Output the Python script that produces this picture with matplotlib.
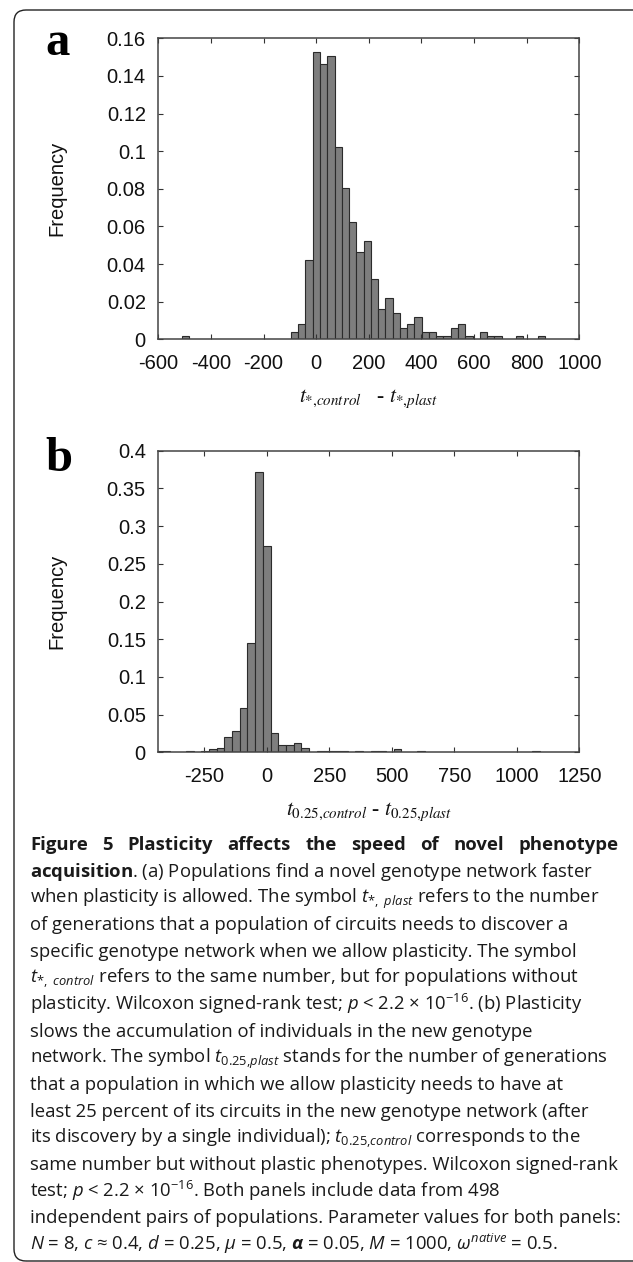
import numpy as np
import matplotlib
matplotlib.use('Agg')
import matplotlib.pyplot as plt
from matplotlib.patches import FancyBboxPatch
from matplotlib.transforms import IdentityTransform
from matplotlib.ticker import FuncFormatter

# panel a : t*,control - t*,plast  (50 bins, counts out of 498 pairs)
a_range = (-510, 870)
a_counts = [1, 0, 0, 0, 0, 0, 0, 0, 0, 0, 0, 0, 0, 0, 0,
            2, 4, 21, 76, 73, 75, 51, 40, 31, 23, 26, 16, 8, 11, 7, 3, 4, 6,
            2, 2, 1, 1, 3, 4, 1, 0, 2, 1, 1, 0, 0, 1, 0, 0, 1]
a_xticks = [-600, -400, -200, 0, 200, 400, 600, 800, 1000]
a_yticks = [0, 0.02, 0.04, 0.06, 0.08, 0.1, 0.12, 0.14, 0.16]

# panel b : t0.25,control - t0.25,plast
b_range = (-447, 1093)
b_counts = [1, 1, 0, 0, 1, 0, 1, 2, 3, 10, 14, 29, 72, 185, 136, 13, 5, 5, 6, 3,
            0, 1, 1, 1, 1, 0, 1, 0, 1, 1, 0, 2, 0, 0, 1,
            0, 0, 0, 0, 0, 0, 0, 0, 0, 0, 0, 0, 0, 0, 1]
b_xticks = [-250, 0, 250, 500, 750, 1000, 1250]
b_yticks = [0, 0.05, 0.1, 0.15, 0.2, 0.25, 0.3, 0.35, 0.4]

n_pairs = 498

caption_title = 'Figure 5 Plasticity affects the speed of novel phenotype'
caption_lines = [
    r'$\mathbf{acquisition}$. (a) Populations find a novel genotype network faster',
    r'when plasticity is allowed. The symbol $t_{*,\ plast}$ refers to the number',
    r'of generations that a population of circuits needs to discover a',
    r'specific genotype network when we allow plasticity. The symbol',
    r'$t_{*,\ control}$ refers to the same number, but for populations without',
    r'plasticity. Wilcoxon signed-rank test; $p$ < 2.2 × $10^{-16}$. (b) Plasticity',
    r'slows the accumulation of individuals in the new genotype',
    r'network. The symbol $t_{0.25{,}plast}$ stands for the number of generations',
    r'that a population in which we allow plasticity needs to have at',
    r'least 25 percent of its circuits in the new genotype network (after',
    r'its discovery by a single individual); $t_{0.25{,}control}$ corresponds to the',
    r'same number but without plastic phenotypes. Wilcoxon signed-rank',
    r'test; $p$ < 2.2 × $10^{-16}$. Both panels include data from 498',
    r'independent pairs of populations. Parameter values for both panels:',
    r'$N$ = 8, $c$ ≈ 0.4, $d$ = 0.25, $\mu$ = 0.5, $\boldsymbol{\alpha}$ = 0.05, $M$ = 1000, $\omega^{native}$ = 0.5.',
]

plt.rcParams['axes.unicode_minus'] = False
plt.rcParams['mathtext.fontset'] = 'custom'
plt.rcParams['mathtext.rm'] = 'Open Sans'
plt.rcParams['mathtext.it'] = 'Open Sans:italic'
plt.rcParams['mathtext.bf'] = 'Open Sans:bold'
plt.rcParams['mathtext.bfit'] = 'Open Sans:bold:italic'

W, H = 633, 1262
fig = plt.figure(figsize=(W / 100, H / 100), dpi=100)

# rounded frame around the whole figure
frame = FancyBboxPatch((14, 1), 660, H - 11, boxstyle='round,pad=0,rounding_size=12',
                       transform=IdentityTransform(), fill=False,
                       edgecolor='#222222', linewidth=1.0)
fig.patches.append(frame)


def px_axes(left, top, right, bottom):
    return fig.add_axes([left / W, 1 - bottom / H, (right - left) / W, (bottom - top) / H])


def draw_hist(ax, rng, counts, xticks, yticks, xlabel):
    counts = np.array(counts, dtype=float)
    edges = np.linspace(rng[0], rng[1], len(counts) + 1)
    freq = counts / n_pairs
    keep = counts > 0
    ax.bar(edges[:-1][keep], freq[keep], width=np.diff(edges)[keep], align='edge',
           color='#7e7e7e', edgecolor='#2b2b2b', linewidth=0.8)
    ax.set_xticks(xticks)
    ax.set_yticks(yticks)
    ax.set_ylim(yticks[0], yticks[-1])
    fmt = FuncFormatter(lambda v, p: '%g' % v)
    ax.xaxis.set_major_formatter(fmt)
    ax.yaxis.set_major_formatter(fmt)
    ax.tick_params(direction='in', length=3.3, width=0.8, color='#333333',
                   top=True, right=True, labelsize=14.5, labelcolor='#111111')
    ax.tick_params(axis='x', pad=10.5)
    ax.tick_params(axis='y', pad=9)
    for lab in ax.get_xticklabels() + ax.get_yticklabels():
        lab.set_family('Liberation Sans')
    for sp in ax.spines.values():
        sp.set_color('#444444')
        sp.set_linewidth(1.1)
    ax.set_ylabel('Frequency', family='Liberation Sans', fontsize=14.5, color='#111111', va='center')
    ax.yaxis.set_label_coords(-0.242, 0.5)
    ax.set_xlabel(xlabel, family='Liberation Serif', fontsize=15.5, math_fontfamily='stix',
                  va='center', color='#111111')


ax_a = px_axes(158.3, 38.3, 579.4, 339.3)
draw_hist(ax_a, a_range, a_counts, a_xticks, a_yticks,
          r'$t_{*{,}control}$   - $t_{*{,}plast}$')
ax_a.set_xlim(-600, 1000)
ax_a.xaxis.set_label_coords(0.5, -0.196)

ax_b = px_axes(158.3, 450.7, 579.3, 752.3)
draw_hist(ax_b, b_range, b_counts, b_xticks, b_yticks,
          r'$t_{0.25{,}control}$ - $t_{0.25{,}plast}$')
ax_b.set_xlim(-434, 1250)
ax_b.xaxis.set_label_coords(0.5, -0.197)

# panel letters
fig.text(45 / W, 1 - 55 / H, 'a', family='Liberation Serif', weight='bold', fontsize=35, va='baseline')
fig.text(45 / W, 1 - 471 / H, 'b', family='Liberation Serif', weight='bold', fontsize=35, va='baseline')

# caption: bold title line, justified between x=30 and x=619
renderer = fig.canvas.get_renderer()
y0 = 850
words = caption_title.split()
word_objs = [fig.text(0, 1 - y0 / H, w, family='Open Sans', fontsize=13.3, weight='bold',
                      color='#1a1a1a', va='baseline', ha='left') for w in words]
widths = [o.get_window_extent(renderer).width for o in word_objs]
gap = (619 - 30 - sum(widths)) / (len(words) - 1)
x = 30
for o, w in zip(word_objs, widths):
    o.set_x(x / W)
    x += w + gap

for i, line in enumerate(caption_lines):
    y = y0 + (i + 1) * 26.67
    fig.text(30 / W, 1 - y / H, line, family=['Open Sans', 'DejaVu Sans'], fontsize=13.3,
             color='#1a1a1a', va='baseline', ha='left')

fig.savefig('out.png', dpi=100)
